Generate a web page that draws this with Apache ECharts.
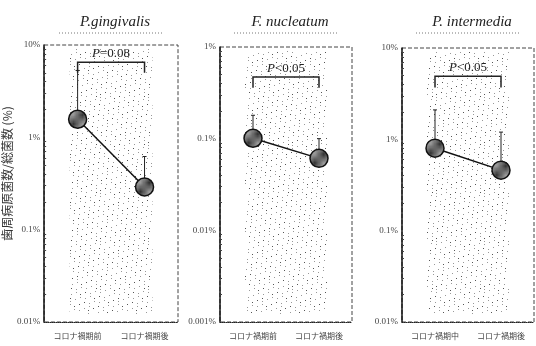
<!DOCTYPE html>
<html>
<head>
<meta charset="utf-8">
<script src="https://cdn.jsdelivr.net/npm/echarts/dist/echarts.min.js"></script>
<style>
  html, body { margin: 0; padding: 0; background: #fff; }
  #chart { width: 536px; height: 346px; }
</style>
</head>
<body>
<div id="chart"></div>
<script>
// panel data
const titles = ['P.gingivalis', 'F. nucleatum', 'P. intermedia']
const categories = [
  ['コロナ禍期前', 'コロナ禍期後'],
  ['コロナ禍期前', 'コロナ禍期後'],
  ['コロナ禍期中', 'コロナ禍期後']
]
const means = [[1.57, 0.29], [0.101, 0.061], [0.8, 0.46]]
const upperErr = [[5.3, 0.62], [0.18, 0.1], [2.1, 1.2]]
const yMin = [0.01, 0.001, 0.01]
const yMax = [10, 1, 10]
const yTickLabels = [
  ['0.01%', '0.1%', '1%', '10%'],
  ['0.001%', '0.01%', '0.1%', '1%'],
  ['0.01%', '0.1%', '1%', '10%']
]
const pTexts = ['=0.08', '<0.05', '<0.05']
const bracketTop = [6.5, 0.47, 4.9]
const bracketLeg = [5.0, 0.36, 3.7]
const yAxisName = '歯周病原菌数/総菌数 (%)'

const grids = [
  { left: 44, right: 358, top: 45, bottom: 24 },
  { left: 220, right: 184, top: 47, bottom: 24 },
  { left: 402, right: 2, top: 48, bottom: 24 }
]

// stipple texture for the shaded column
function makeStipple() {
  const c = document.createElement('canvas')
  c.width = 48
  c.height = 48
  const ctx = c.getContext('2d')
  for (let i = 0; i < 95; i++) {
    const x = (i * 0.6180339 * 48) % 48
    const y = (i * 0.7548776 * 48 + i * 3.1) % 48
    ctx.fillStyle = i % 3 === 0 ? '#555' : '#999'
    ctx.fillRect(Math.floor(x), Math.floor(y), 1, 1)
  }
  return c
}
const stipple = makeStipple()

// hatch texture for markers
function makeHatch() {
  const c = document.createElement('canvas')
  c.width = 5
  c.height = 5
  const ctx = c.getContext('2d')
  ctx.fillStyle = '#9a9a9a'
  ctx.fillRect(0, 0, 5, 5)
  ctx.strokeStyle = '#333'
  ctx.lineWidth = 1
  ctx.beginPath()
  ctx.moveTo(0, 5); ctx.lineTo(5, 0)
  ctx.stroke()
  return c
}
const hatch = makeHatch()

const serif = '"Liberation Serif", "DejaVu Serif", serif'
const cjk = '"Noto Sans CJK JP", sans-serif'

const xAxis = []
const yAxis = []
const series = []
const title = []
const graphic = []

for (let i = 0; i < 3; i++) {
  xAxis.push({
    type: 'category',
    gridIndex: i,
    data: categories[i],
    axisLine: { lineStyle: { color: '#222', width: 1, type: 'dotted' } },
    axisTick: { alignWithLabel: true, length: 6, lineStyle: { color: '#222' } },
    axisLabel: { color: '#444', fontSize: 8, fontFamily: cjk, margin: 10 }
  })
  const minLog = Math.log10(yMin[i])
  yAxis.push({
    type: 'log',
    logBase: 10,
    gridIndex: i,
    min: yMin[i],
    max: yMax[i],
    name: i === 0 ? yAxisName : '',
    nameLocation: 'middle',
    nameGap: 28,
    nameRotate: 90,
    nameTextStyle: { color: '#333', fontSize: 12, fontFamily: cjk, padding: [0, 0, 0, 20] },
    axisLine: { show: true, lineStyle: { color: '#111', width: 1.5 } },
    axisTick: { inside: true, length: 3, lineStyle: { color: '#222' } },
    minorTick: { show: true, splitNumber: 9, length: 2, lineStyle: { color: '#444' } },
    splitLine: { show: false },
    axisLabel: {
      color: '#444',
      fontSize: 9,
      fontFamily: serif,
      margin: 4,
      formatter: (v) => yTickLabels[i][Math.round(Math.log10(v) - minLog)] || ''
    }
  })

  // stippled band
  series.push({
    type: 'custom',
    xAxisIndex: i,
    yAxisIndex: i,
    silent: true,
    z: 0,
    data: [[0, 1]],
    renderItem: (params, api) => {
      const a = api.coord([api.value(0), yMax[i]])
      const b = api.coord([api.value(1), yMin[i]])
      return {
        type: 'rect',
        shape: { x: a[0] - 8, y: a[1] + 4, width: b[0] - a[0] + 16, height: b[1] - a[1] - 12 },
        style: { fill: { image: stipple, repeat: 'repeat' } }
      }
    }
  })

  // error bars
  series.push({
    type: 'custom',
    xAxisIndex: i,
    yAxisIndex: i,
    silent: true,
    z: 2,
    data: means[i].map((m, k) => [k, m, upperErr[i][k]]),
    renderItem: (params, api) => {
      const p0 = api.coord([api.value(0), api.value(1)])
      const p1 = api.coord([api.value(0), api.value(2)])
      return {
        type: 'group',
        children: [
          { type: 'line', shape: { x1: p0[0], y1: p0[1], x2: p1[0], y2: p1[1] }, style: { stroke: '#222', lineWidth: 1 } },
          { type: 'line', shape: { x1: p1[0] - 2, y1: p1[1], x2: p1[0] + 2, y2: p1[1] }, style: { stroke: '#222', lineWidth: 1 } }
        ]
      }
    }
  })

  // significance bracket
  series.push({
    type: 'custom',
    xAxisIndex: i,
    yAxisIndex: i,
    silent: true,
    z: 2,
    data: [[0, 1, bracketTop[i], bracketLeg[i]]],
    renderItem: (params, api) => {
      const a = api.coord([api.value(0), api.value(2)])
      const b = api.coord([api.value(1), api.value(2)])
      const legY = api.coord([0, api.value(3)])[1]
      const st = { stroke: '#222', lineWidth: 1.5, fill: null }
      return {
        type: 'group',
        children: [
          { type: 'polyline', shape: { points: [[a[0], legY], [a[0], a[1]], [b[0], b[1]], [b[0], legY]] }, style: st },
          {
            type: 'text',
            x: (a[0] + b[0]) / 2,
            y: a[1] - 2,
            style: {
              text: '{i|P}' + pTexts[i],
              align: 'center',
              verticalAlign: 'bottom',
              fill: '#222',
              font: '13px ' + serif,
              rich: { i: { fontStyle: 'italic', fontSize: 13, fontFamily: serif, fill: '#222' } }
            }
          }
        ]
      }
    }
  })

  // means
  series.push({
    type: 'line',
    xAxisIndex: i,
    yAxisIndex: i,
    z: 3,
    data: means[i],
    symbol: 'circle',
    symbolSize: 18,
    lineStyle: { color: '#111', width: 1.5 },
    itemStyle: { color: { image: hatch, repeat: 'repeat' }, borderColor: '#111', borderWidth: 1.5 },
    emphasis: { disabled: true }
  })

  const g = grids[i]
  const cx = g.left + (536 - g.left - g.right) / 2
  title.push({
    text: titles[i],
    left: cx - 1,
    top: 10,
    textAlign: 'center',
    textStyle: { fontFamily: serif, fontStyle: 'italic', fontWeight: 'normal', fontSize: 15, color: '#222' }
  })
  graphic.push({
    type: 'line',
    shape: { x1: cx - 52, y1: 33, x2: cx + 52, y2: 33 },
    style: { stroke: '#777', lineWidth: 1, lineDash: [1, 2] }
  })
}

const chart = echarts.init(document.getElementById('chart'))
chart.setOption({
  animation: false,
  title,
  grid: grids.map(g => Object.assign({ show: true, borderColor: '#444', borderWidth: 1, borderType: 'dashed', backgroundColor: 'transparent' }, g)),
  xAxis,
  yAxis,
  series,
  graphic
})
</script>
</body>
</html>
